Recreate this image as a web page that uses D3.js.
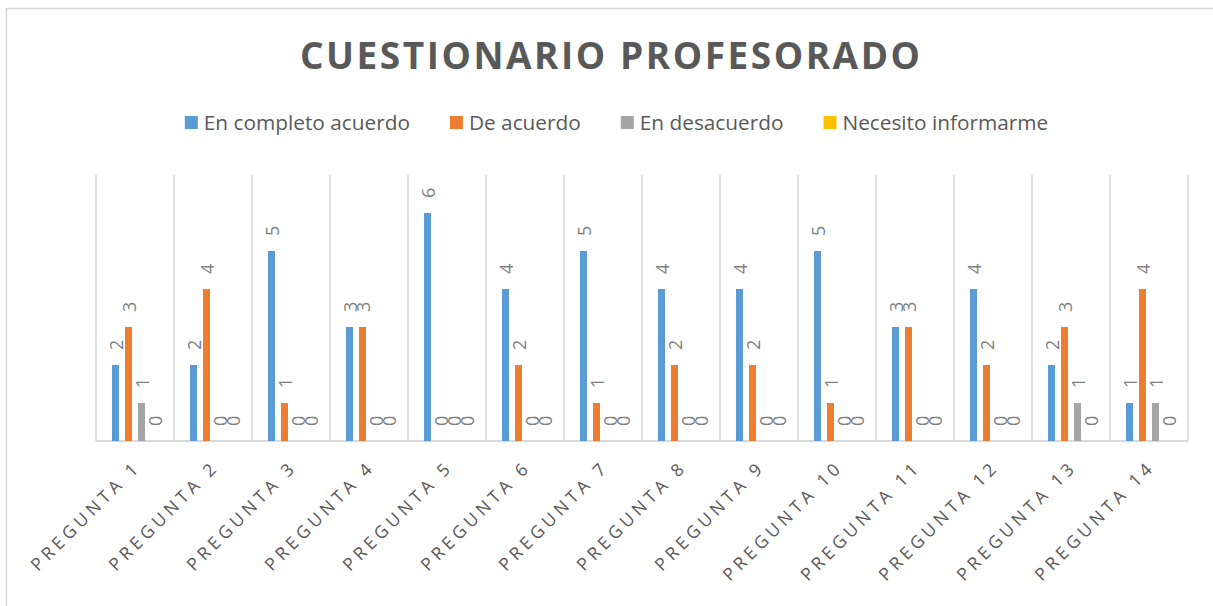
<!DOCTYPE html>
<html>
<head>
<meta charset="utf-8">
<script src="https://cdn.jsdelivr.net/npm/d3@7"></script>
<style>
  body { margin: 0; background: #fff; }
  text { font-family: "Open Sans", "Noto Sans", sans-serif; }
</style>
</head>
<body>
<div id="chart"></div>
<script>
// data
const preguntas = ["PREGUNTA 1","PREGUNTA 2","PREGUNTA 3","PREGUNTA 4","PREGUNTA 5","PREGUNTA 6","PREGUNTA 7",
  "PREGUNTA 8","PREGUNTA 9","PREGUNTA 10","PREGUNTA 11","PREGUNTA 12","PREGUNTA 13","PREGUNTA 14"];
const series = ["En completo acuerdo", "De acuerdo", "En desacuerdo", "Necesito informarme"];
const completoAcuerdo = [2, 2, 5, 3, 6, 4, 5, 4, 4, 5, 3, 4, 2, 1];
const deAcuerdo       = [3, 4, 1, 3, 0, 2, 1, 2, 2, 1, 3, 2, 3, 4];
const desacuerdo      = [1, 0, 0, 0, 0, 0, 0, 0, 0, 0, 0, 0, 1, 1];
const informarme      = [0, 0, 0, 0, 0, 0, 0, 0, 0, 0, 0, 0, 0, 0];
const yTicks = [0, 7]; // axis range

const colors = ["#5b9bd5", "#ed7d31", "#a5a5a5", "#ffc000"];
const allValues = [completoAcuerdo, deAcuerdo, desacuerdo, informarme];

const W = 1213, H = 606;
const plot = {left: 96, right: 1188, top: 175, bottom: 441};

let svg = d3.select("#chart").append("svg")
    .attr("width", W).attr("height", H);

// outer chart border (only top and left visible)
svg.append("rect")
    .attr("x", 6.5).attr("y", 8.5)
    .attr("width", W + 20).attr("height", H + 20)
    .attr("fill", "none").attr("stroke", "#d9d9d9").attr("stroke-width", 1.5);

// title
svg.append("text")
    .attr("x", 610).attr("y", 69)
    .attr("text-anchor", "middle")
    .attr("font-size", 37).attr("font-weight", "bold")
    .attr("fill", "#595959")
    .attr("textLength", 620).attr("lengthAdjust", "spacing")
    .text("CUESTIONARIO PROFESORADO");

// scales
let x = d3.scaleBand().domain(preguntas).range([plot.left, plot.right]).padding(0);
let xs = d3.scaleBand().domain(series)
    .range([16, x.bandwidth() - 16])
    .paddingInner(6 / 13).paddingOuter(0);
let y = d3.scaleLinear().domain(yTicks).range([plot.bottom, plot.top]);

// vertical gridlines between categories
let bounds = preguntas.map(p => x(p)).concat([plot.right]);
svg.append("g").selectAll("line").data(bounds).enter().append("line")
    .attr("x1", d => d).attr("x2", d => d)
    .attr("y1", y(7)).attr("y2", y(0))
    .attr("stroke", "#d9d9d9").attr("stroke-width", 1.5);

// baseline
svg.append("line")
    .attr("x1", plot.left).attr("x2", plot.right)
    .attr("y1", y(0)).attr("y2", y(0))
    .attr("stroke", "#d9d9d9").attr("stroke-width", 2);

// bars
let rows = [];
preguntas.forEach(function(p, i) {
    series.forEach(function(s, j) {
        rows.push({p: p, s: s, j: j, v: allValues[j][i]});
    });
});

svg.append("g").selectAll("rect").data(rows).enter().append("rect")
    .attr("x", d => x(d.p) + xs(d.s))
    .attr("y", d => y(d.v))
    .attr("width", xs.bandwidth())
    .attr("height", d => y(0) - y(d.v))
    .attr("fill", d => colors[d.j]);

// value labels, rotated
svg.append("g").selectAll("text").data(rows).enter().append("text")
    .attr("transform", d => `translate(${x(d.p) + xs(d.s) + xs.bandwidth() / 2 + 0.5},${y(d.v) - 15}) rotate(-90)`)
    .attr("dominant-baseline", "central")
    .attr("font-size", 18)
    .attr("fill", "#7f7f7f")
    .text(d => d.v);

// category labels, rotated -45
svg.append("g").selectAll("text").data(preguntas).enter().append("text")
    .attr("transform", d => `translate(${x(d) + x.bandwidth() / 2 + 7},${plot.bottom + 27}) rotate(-45)`)
    .attr("text-anchor", "end")
    .attr("font-size", 17.5)
    .attr("letter-spacing", 4.2)
    .attr("fill", "#595959")
    .text(d => d);

// legend
let legend = svg.append("g");
let items = legend.selectAll("g").data(series).enter().append("g");
items.append("rect")
    .attr("width", 13).attr("height", 13)
    .attr("y", 116)
    .attr("fill", (d, i) => colors[i]);
items.append("text")
    .attr("x", 19).attr("y", 130)
    .attr("font-size", 20.8)
    .attr("fill", "#595959")
    .text(d => d);

let pos = 0, offsets = [];
items.each(function() {
    let w = d3.select(this).select("text").node().getComputedTextLength();
    offsets.push(pos);
    pos += 19 + w + 40;
});
let total = pos - 40;
let start = 616.5 - total / 2;
items.attr("transform", (d, i) => `translate(${start + offsets[i]},0)`);
</script>
</body>
</html>
